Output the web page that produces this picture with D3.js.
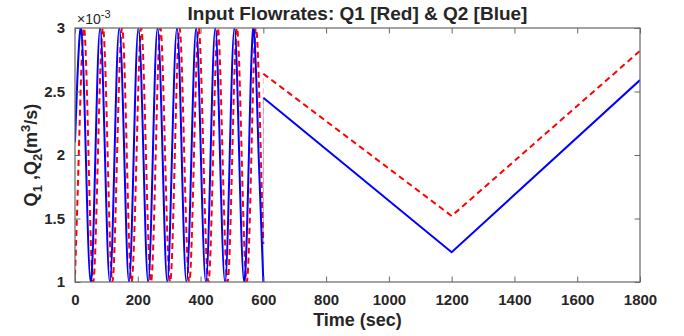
<!DOCTYPE html>
<html>
<head>
<meta charset="utf-8">
<script src="https://cdn.jsdelivr.net/npm/d3@7"></script>
<style>
  body { margin: 0; background: #fff; }
  text { font-family: "Liberation Sans", Arial, sans-serif; fill: #262626; }
</style>
</head>
<body>
<svg id="chart" width="684" height="336"></svg>
<script>
// oscillating part (0-600 s) at peaks / troughs / mid crossings
var blueT = [0, 19, 34.5, 50, 65, 80, 95.5, 111, 126, 141, 157, 172, 187, 202, 218, 233, 248, 263, 279, 294,
  309, 325, 340, 355, 371, 386, 401, 417, 432, 447, 462, 478, 493, 508, 523, 539, 554, 569, 585, 600];
var blueV = [2.1, 3, 2, 1, 2, 3, 2, 1, 2, 3, 2, 1, 2, 3, 2, 1, 2, 3, 2, 1,
  2, 3, 2, 1, 2, 3, 2, 1, 2, 3, 2, 1, 2, 3, 2, 1, 2, 3, 2, 1];
var redT = [0, 12, 28, 43, 58, 73, 89, 104, 119, 134, 150, 165, 180, 196, 211, 226, 242, 257, 272, 287,
  303, 318, 333, 348, 364, 379, 394, 409, 425, 440, 455, 470, 486, 501, 516, 531, 547, 562, 577, 592, 600];
var redV = [1.05, 2, 3, 2, 1, 2, 3, 2, 1, 2, 3, 2, 1, 2, 3, 2, 1, 2, 3, 2,
  1, 2, 3, 2, 1, 2, 3, 2, 1, 2, 3, 2, 1, 2, 3, 2, 1, 2, 3, 2, 1.3];

// ramp part (600-1800 s)
var rampT = [600, 1200, 1800];
var blueRamp = [2.45, 1.235, 2.59];
var redRamp = [2.64, 1.52, 2.82];

var xTicks = [0, 200, 400, 600, 800, 1000, 1200, 1400, 1600, 1800];
var yTicks = [1, 1.5, 2, 2.5, 3];

var plotL = 75, plotR = 640, plotT = 28, plotB = 282;

var svg = d3.select("#chart");
var x = d3.scaleLinear().domain([0, 1800]).range([plotL, plotR]);
var y = d3.scaleLinear().domain([1, 3]).range([plotB, plotT]);

function pts(t, v) {
  return t.map(function(d, i) { return [d, v[i]]; });
}

svg.append("clipPath").attr("id", "clip")
  .append("rect")
  .attr("x", plotL).attr("y", plotT)
  .attr("width", plotR - plotL).attr("height", plotB - plotT);

var wave = d3.line().x(d => x(d[0])).y(d => y(d[1])).curve(d3.curveNatural);
var straight = d3.line().x(d => x(d[0])).y(d => y(d[1]));

var plot = svg.append("g").attr("clip-path", "url(#clip)");

// red dashed (Q1)
plot.append("path")
  .attr("d", wave(pts(redT, redV)))
  .attr("fill", "none").attr("stroke", "#ff0000").attr("stroke-width", 2)
  .attr("stroke-dasharray", "6,4");
plot.append("path")
  .attr("d", straight([[600, redV[redV.length - 1]], [600, redRamp[0]]]))
  .attr("fill", "none").attr("stroke", "#ff0000").attr("stroke-width", 1)
  .attr("stroke-dasharray", "6,4").attr("opacity", 0.25);
plot.append("path")
  .attr("d", straight(pts(rampT, redRamp)))
  .attr("fill", "none").attr("stroke", "#ff0000").attr("stroke-width", 2)
  .attr("stroke-dasharray", "6,4");

// blue solid (Q2)
plot.append("path")
  .attr("d", wave(pts(blueT, blueV)))
  .attr("fill", "none").attr("stroke", "#0000ff").attr("stroke-width", 2);
plot.append("path")
  .attr("d", straight([[600, blueV[blueV.length - 1]], [600, blueRamp[0]]]))
  .attr("fill", "none").attr("stroke", "#0000ff").attr("stroke-width", 1)
  .attr("opacity", 0.25);
plot.append("path")
  .attr("d", straight(pts(rampT, blueRamp)))
  .attr("fill", "none").attr("stroke", "#0000ff").attr("stroke-width", 2);

// axes, MATLAB style: inward ticks on all four sides
var tk = 5.5;
function styleAxis(g) {
  g.select(".domain").remove();
  g.selectAll(".tick line").attr("stroke", "#666").attr("stroke-width", 1);
}
function styleLabels(g) {
  g.selectAll(".tick text").attr("font-size", 15).attr("font-weight", "bold")
    .attr("fill", "#262626").attr("font-family", "Liberation Sans, Arial, sans-serif");
}
svg.append("g")
  .attr("transform", "translate(0," + plotB + ")")
  .call(d3.axisBottom(x).tickValues(xTicks).tickSizeInner(-tk).tickSizeOuter(0).tickPadding(12)
    .tickFormat(d3.format("d")))
  .call(styleAxis)
  .call(styleLabels);
svg.append("g")
  .attr("transform", "translate(0," + plotT + ")")
  .call(d3.axisTop(x).tickValues(xTicks).tickSizeInner(-tk).tickSizeOuter(0).tickFormat(""))
  .call(styleAxis);
svg.append("g")
  .attr("transform", "translate(" + plotL + ",0)")
  .call(d3.axisLeft(y).tickValues(yTicks).tickSizeInner(-tk).tickSizeOuter(0).tickPadding(10)
    .tickFormat(d3.format("")))
  .call(styleAxis)
  .call(styleLabels);
svg.append("g")
  .attr("transform", "translate(" + plotR + ",0)")
  .call(d3.axisRight(y).tickValues(yTicks).tickSizeInner(-tk).tickSizeOuter(0).tickFormat(""))
  .call(styleAxis);

svg.append("rect")
  .attr("x", plotL).attr("y", plotT)
  .attr("width", plotR - plotL).attr("height", plotB - plotT)
  .attr("fill", "none").attr("stroke", "#666").attr("stroke-width", 1.2);

// exponent
var ex = svg.append("text").attr("x", plotL + 2).attr("y", 24).attr("font-size", 14);
ex.append("tspan").text("\u00d710");
ex.append("tspan").attr("dy", -6).attr("font-size", 11).text("-3");

// title
svg.append("text")
  .attr("x", (plotL + plotR) / 2).attr("y", 20)
  .attr("text-anchor", "middle").attr("font-size", 19).attr("font-weight", "bold")
  .text("Input Flowrates: Q1 [Red] & Q2 [Blue]");

// x label
svg.append("text")
  .attr("x", (plotL + plotR) / 2).attr("y", 326)
  .attr("text-anchor", "middle").attr("font-size", 18).attr("font-weight", "bold")
  .text("Time (sec)");

// y label with sub/superscripts
var yl = svg.append("text")
  .attr("transform", "translate(37," + (plotT + plotB) / 2 + ") rotate(-90)")
  .attr("text-anchor", "middle").attr("font-size", 18).attr("font-weight", "bold");
yl.append("tspan").text("Q");
yl.append("tspan").attr("dy", 5).attr("font-size", 13).text("1");
yl.append("tspan").attr("dy", -5).text(" ,Q");
yl.append("tspan").attr("dy", 5).attr("font-size", 13).text("2");
yl.append("tspan").attr("dy", -5).text("(m");
yl.append("tspan").attr("dy", -7).attr("font-size", 13).text("3");
yl.append("tspan").attr("dy", 7).text("/s)");
</script>
</body>
</html>
